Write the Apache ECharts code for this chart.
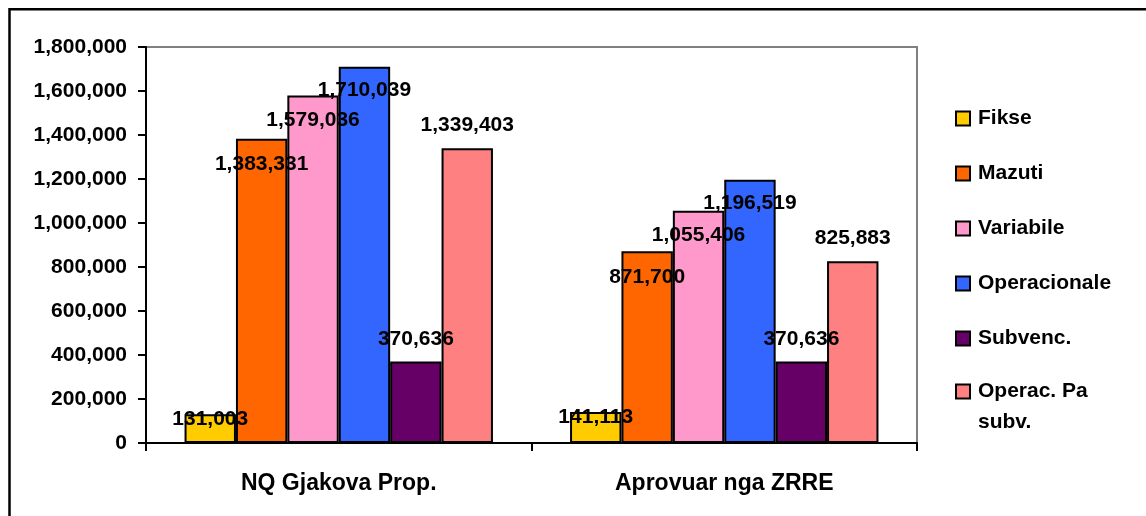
<!DOCTYPE html>
<html>
<head>
<meta charset="utf-8">
<script src="https://cdn.jsdelivr.net/npm/echarts@6/dist/echarts.min.js"></script>
<style>
html,body{margin:0;padding:0;background:#fff;}
#c{width:1146px;height:516px;}
</style>
</head>
<body>
<div id="c"></div>
<script>
const categories = ['NQ Gjakova Prop.', 'Aprovuar nga ZRRE'];
const seriesNames = ['Fikse', 'Mazuti', 'Variabile', 'Operacionale', 'Subvenc.', 'Operac. Pa subv.'];
const fikse = [131003, 141113];
const mazuti = [1383331, 871700];
const variabile = [1579036, 1055406];
const operacionale = [1710039, 1196519];
const subvenc = [370636, 370636];
const operacPaSubv = [1339403, 825883];
const yTicks = { min: 0, max: 1800000, interval: 200000 };

const seriesValues = [fikse, mazuti, variabile, operacionale, subvenc, operacPaSubv];
const colors = ['#FFCC00', '#FF6600', '#FF99CC', '#3366FF', '#660066', '#FF8080'];
const labelDy = [21, 41, 40, 39, -7, -8];

const fmt = v => Number(v).toLocaleString('en-US');
const FONT = 'Liberation Sans, Arial, sans-serif';

const chart = echarts.init(document.getElementById('c'), null, { renderer: 'canvas' });

const series = seriesNames.map((name, i) => ({
  name: name,
  type: 'bar',
  data: seriesValues[i],
  barGap: '0%',
  barCategoryGap: '20%',
  itemStyle: { color: colors[i], borderColor: '#000', borderWidth: 2 },
  label: {
    show: true,
    position: 'top',
    distance: 5,
    offset: [0, labelDy[i]],
    formatter: p => fmt(p.value),
    color: '#000',
    fontFamily: FONT,
    fontWeight: 'bold',
    fontSize: 21
  },
  emphasis: { disabled: true },
  animation: false
}));

const legendBase = {
  orient: 'vertical',
  left: 955,
  padding: 0,
  itemGap: 34,
  itemWidth: 14,
  itemHeight: 14,
  icon: 'rect',
  itemStyle: { borderColor: '#000', borderWidth: 2 },
  selectedMode: false,
  textStyle: { color: '#000', fontFamily: FONT, fontWeight: 'bold', fontSize: 21, lineHeight: 21, padding: [0, 0, 0, 3] }
};

chart.setOption({
  animation: false,
  backgroundColor: '#fff',
  graphic: [{
    type: 'rect',
    shape: { x: 9.5, y: 9.2, width: 1400, height: 800 },
    style: { fill: 'none', stroke: '#000', lineWidth: 2.5 },
    silent: true,
    z: 100
  }],
  grid: {
    left: 146, right: 229, top: 47, bottom: 73,
    show: true, borderColor: '#808080', borderWidth: 2, backgroundColor: 'transparent'
  },
  legend: [
    Object.assign({}, legendBase, {
      top: 108,
      data: seriesNames.slice(0, 5)
    }),
    Object.assign({}, legendBase, {
      top: 345,
      data: seriesNames.slice(5),
      formatter: name => ' \n' + name.replace(' subv.', '\nsubv.'),
      textStyle: Object.assign({}, legendBase.textStyle, { lineHeight: 31 })
    })
  ],
  xAxis: {
    type: 'category',
    data: categories,
    axisLine: { lineStyle: { color: '#000', width: 2 } },
    axisTick: { show: true, length: 8, lineStyle: { color: '#000', width: 2 } },
    axisLabel: { margin: 29, color: '#000', fontFamily: FONT, fontWeight: 'bold', fontSize: 23 },
    splitLine: { show: false }
  },
  yAxis: {
    type: 'value',
    min: yTicks.min, max: yTicks.max, interval: yTicks.interval,
    axisLine: { show: true, lineStyle: { color: '#000', width: 2 } },
    axisTick: { show: true, length: 8, lineStyle: { color: '#000', width: 2 } },
    axisLabel: { margin: 19, color: '#000', fontFamily: FONT, fontWeight: 'bold', fontSize: 21, formatter: v => fmt(v) },
    splitLine: { show: false }
  },
  series: series
});
</script>
</body>
</html>
